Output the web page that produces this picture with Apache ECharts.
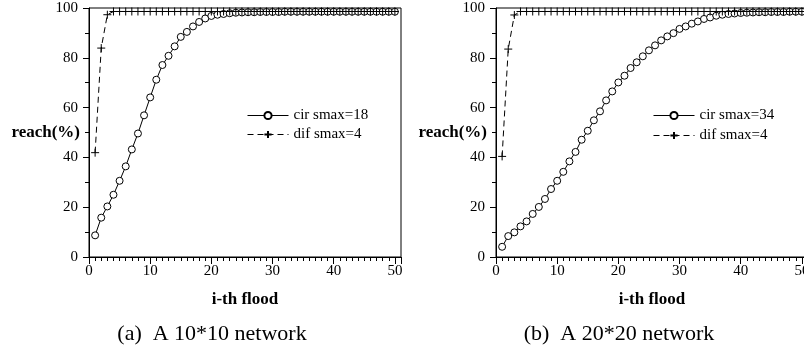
<!DOCTYPE html>
<html>
<head>
<meta charset="utf-8">
<script src="https://cdn.jsdelivr.net/npm/echarts@6/dist/echarts.min.js"></script>
<style>
html,body{margin:0;padding:0;background:#fff;}
#c{width:804px;height:350px;}
</style>
</head>
<body>
<div id="c"></div>
<script>
// ---- data ----
var floods = [];
for (var i = 1; i <= 50; i++) floods.push(i);

var cir10 = [8.7,15.8,20.3,25.0,30.6,36.4,43.2,49.6,56.9,64.1,
             71.2,77.1,80.8,84.6,88.4,90.4,92.6,94.4,95.8,96.8,
             97.3,97.6,97.9,98.1,98.2,98.3,98.3,98.4,98.4,98.4,
             98.4,98.5,98.5,98.5,98.5,98.5,98.5,98.5,98.5,98.5,
             98.5,98.5,98.5,98.5,98.5,98.5,98.5,98.5,98.5,98.5];
var dif10 = [41.9,83.9,97.3,98.6,98.6,98.6,98.6,98.6,98.6,98.6,
             98.6,98.6,98.6,98.6,98.6,98.6,98.6,98.6,98.6,98.6,
             98.6,98.6,98.6,98.6,98.6,98.6,98.6,98.6,98.6,98.6,
             98.6,98.6,98.6,98.6,98.6,98.6,98.6,98.6,98.6,98.6,
             98.6,98.6,98.6,98.6,98.6,98.6,98.6,98.6,98.6,98.6];
var cir20 = [4.1,8.4,9.9,12.3,14.3,17.3,20.1,23.3,27.3,30.6,
             34.2,38.4,42.2,47.1,50.7,54.9,58.5,62.9,66.5,70.1,
             72.8,75.9,78.2,80.6,83.0,85.0,87.0,88.6,89.9,91.6,
             92.6,93.7,94.6,95.6,96.2,96.9,97.3,97.6,97.8,98.0,
             98.1,98.2,98.3,98.3,98.4,98.4,98.4,98.5,98.5,98.5];
var dif20 = [40.4,83.5,97.2,98.6,98.6,98.6,98.6,98.6,98.6,98.6,
             98.6,98.6,98.6,98.6,98.6,98.6,98.6,98.6,98.6,98.6,
             98.6,98.6,98.6,98.6,98.6,98.6,98.6,98.6,98.6,98.6,
             98.6,98.6,98.6,98.6,98.6,98.6,98.6,98.6,98.6,98.6,
             98.6,98.6,98.6,98.6,98.6,98.6,98.6,98.6,98.6,98.6];

var seriesNames = [['cir smax=18','dif smax=4'],['cir smax=34','dif smax=4']];
var captions = ['(a)  A 10*10 network','(b)  A 20*20 network'];
var xName = 'i-th flood';
var yName = 'reach(%)';

// ---- chart ----
var FONT = '"Liberation Serif","Times New Roman",serif';
var plusPath = 'path://M5,0L5,10M0,5L10,5';
function pairs(vals){ return vals.map(function(v,i){ return [floods[i], v]; }); }

var grids = [
  {left:89, top:8, width:312, height:249, show:true, borderColor:'#000', borderWidth:1, backgroundColor:'transparent', containLabel:false, outerBoundsMode:'none'},
  {left:496, top:8, width:312, height:249, show:true, borderColor:'#000', borderWidth:1, backgroundColor:'transparent', containLabel:false, outerBoundsMode:'none'}
];

var xAxes = [], yAxes = [], series = [], legends = [], graphics = [];
[0,1].forEach(function(g){
  xAxes.push({
    type:'value', gridIndex:g, min:0, max:51, interval:10, position:'bottom',
    name:xName, nameLocation:'middle', nameGap:34, nameMoveOverlap:false,
    nameTextStyle:{fontFamily:FONT, fontWeight:'bold', fontSize:17, color:'#000'},
    axisLine:{show:true, lineStyle:{color:'#000', width:1}},
    axisTick:{show:true, inside:false, length:7, lineStyle:{color:'#000'}},
    axisLabel:{fontFamily:FONT, fontSize:15, color:'#000', margin:7,
      formatter:function(v){ return (v % 10 === 0) ? String(v) : ''; }},
    splitLine:{show:false}
  });
  xAxes.push({
    type:'value', gridIndex:g, min:0, max:51, interval:1, position:'bottom',
    axisLine:{show:false},
    axisTick:{show:true, inside:false, length:4, lineStyle:{color:'#000'}},
    axisLabel:{show:false}, splitLine:{show:false}
  });
  yAxes.push({
    type:'value', gridIndex:g, min:0, max:100, interval:20,
    name:yName, nameLocation:'middle', nameRotate:0, nameGap:9, nameMoveOverlap:false,
    nameTextStyle:{fontFamily:FONT, fontWeight:'bold', fontSize:17, color:'#000', align:'right', verticalAlign:'middle'},
    axisLine:{show:true, lineStyle:{color:'#000', width:1}},
    axisTick:{show:true, inside:false, length:6, lineStyle:{color:'#000'}},
    minorTick:{show:true, splitNumber:2, length:4, lineStyle:{color:'#000'}},
    axisLabel:{fontFamily:FONT, fontSize:15, color:'#000', margin:11},
    splitLine:{show:false}
  });
});

var dataSets = [[cir10, dif10],[cir20, dif20]];
[0,1].forEach(function(g){
  series.push({
    name:seriesNames[g][0], type:'line', xAxisIndex:g*2, yAxisIndex:g,
    data:pairs(dataSets[g][0]), symbol:'circle', symbolSize:7,
    itemStyle:{color:'#fff', borderColor:'#000', borderWidth:1},
    lineStyle:{color:'#000', width:1, type:'solid'},
    showAllSymbol:true, animation:false, z:3
  });
  series.push({
    name:seriesNames[g][1], type:'line', xAxisIndex:g*2, yAxisIndex:g,
    data:pairs(dataSets[g][1]), symbol:plusPath, symbolSize:8,
    itemStyle:{color:'#000', borderColor:'#000', borderWidth:1},
    lineStyle:{color:'#000', width:1, type:[6,4]},
    showAllSymbol:true, animation:false, z:4
  });
});

function legendCfg(names, left, top){
  return {
    data:names, left:left, top:top, orient:'vertical',
    itemWidth:41, itemHeight:9, itemGap:4,
    lineStyle:{width:1},
    textStyle:{fontFamily:FONT, fontSize:15, color:'#000'}, selectedMode:false
  };
}
legends.push(legendCfg(seriesNames[0], 242, 103));
legends.push(legendCfg([seriesNames[1][0]], 648, 103));
legends.push(legendCfg([seriesNames[1][1]], 648, 123));

graphics.push({type:'text', x:212, y:334, style:{text:captions[0], font:'22px ' + FONT, fill:'#000', align:'center', verticalAlign:'middle'}});
graphics.push({type:'text', x:619, y:334, style:{text:captions[1], font:'22px ' + FONT, fill:'#000', align:'center', verticalAlign:'middle'}});

var chart = echarts.init(document.getElementById('c'), null, {renderer:'canvas'});
chart.setOption({
  animation:false,
  backgroundColor:'#fff',
  grid:grids, xAxis:xAxes, yAxis:yAxes, series:series, legend:legends, graphic:graphics
});
</script>
</body>
</html>
